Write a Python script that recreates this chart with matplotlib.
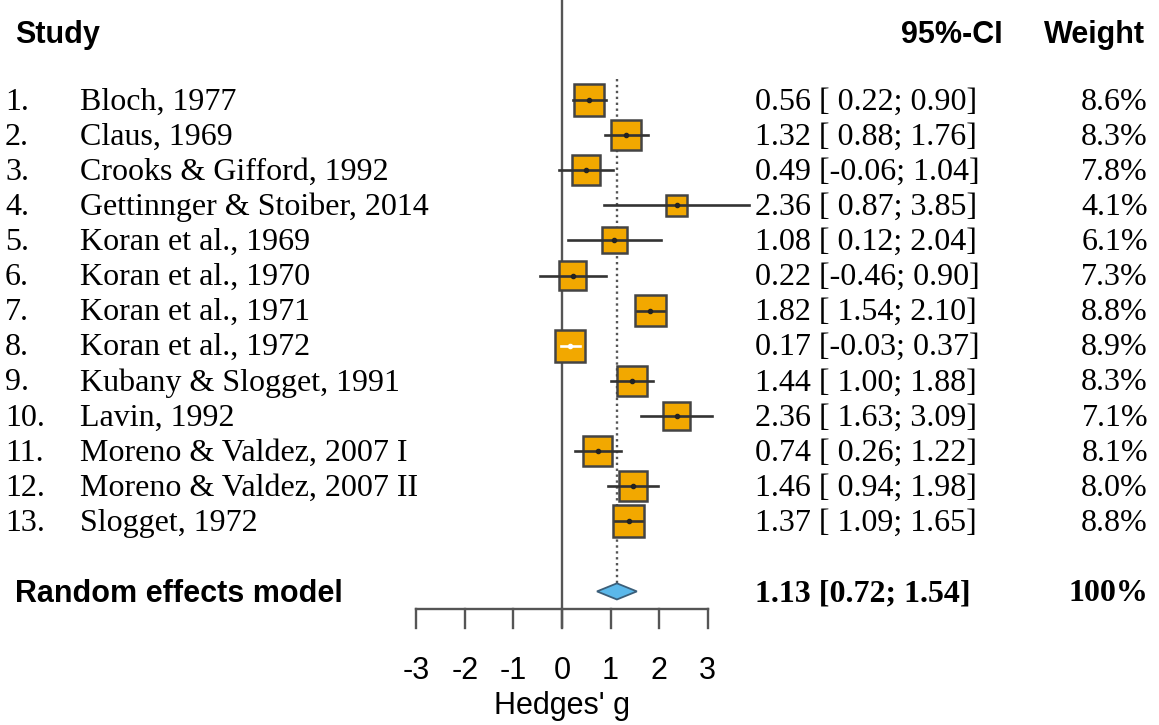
import matplotlib.pyplot as plt
from matplotlib.patches import Rectangle, Polygon
from matplotlib.transforms import blended_transform_factory

# ---------------------------------------- data -------------------------
studies = ["Bloch, 1977", "Claus, 1969", "Crooks & Gifford, 1992",
           "Gettinnger & Stoiber, 2014", "Koran et al., 1969", "Koran et al., 1970",
           "Koran et al., 1971", "Koran et al., 1972", "Kubany & Slogget, 1991",
           "Lavin, 1992", "Moreno & Valdez, 2007 I", "Moreno & Valdez, 2007 II",
           "Slogget, 1972"]
g = [0.56, 1.32, 0.49, 2.36, 1.08, 0.22, 1.82, 0.17, 1.44, 2.36, 0.74, 1.46, 1.37]
lower = [0.22, 0.88, -0.06, 0.87, 0.12, -0.46, 1.54, -0.03, 1.00, 1.63, 0.26, 0.94, 1.09]
upper = [0.90, 1.76, 1.04, 3.85, 2.04, 0.90, 2.10, 0.37, 1.88, 3.09, 1.22, 1.98, 1.65]
weight = [8.6, 8.3, 7.8, 4.1, 6.1, 7.3, 8.8, 8.9, 8.3, 7.1, 8.1, 8.0, 8.8]
pooled = 1.13
pooled_lo = 0.72
pooled_hi = 1.54
ticks = [-3, -2, -1, 0, 1, 2, 3]

W, H = 1159, 725
fig = plt.figure(figsize=(W / 100, H / 100), dpi=100)
ax = fig.add_axes([0, 0, 1, 1])
ax.set_xlim(-562 / 48.6, (W - 562) / 48.6)
ax.set_ylim(1 + (H - 100) / 35.1, 1 - 100 / 35.1)
ax.axis("off")

# x px per unit / y px per row
ux, uy = 48.6, 35.1
tr = blended_transform_factory(ax.transAxes, ax.transData)
def fx(px):
    return px / W

serif = "Liberation Serif"
sans = "Liberation Sans"
fs = 23
line_col = "#333333"
dy = 0.06  # text sits a little below the boxes

# reference lines
ax.plot([0, 0], [-1.9, 16.0], color="#555555", lw=1.7, zorder=1)
ax.plot([pooled, pooled], [0.4, 14.79], color="#555555", lw=1.7, ls=(0, (1, 1.5)), zorder=1)

rows = list(range(1, len(studies) + 1))
for r, name, est, lo, hi, w in zip(rows, studies, g, lower, upper, weight):
    bw = 10.2 * w ** 0.5 / ux
    bh = 10.6 * w ** 0.5 / uy
    ax.add_patch(Rectangle((est - bw / 2, r - bh / 2), bw, bh, facecolor="#F2A800",
                           edgecolor="#444444", lw=1.8, zorder=2))
    inside = (est - lo) < 0.85 * bw / 2 and (hi - est) < 0.85 * bw / 2
    ax.plot([lo, hi], [r, r], color="white" if inside else line_col, lw=1.9, zorder=3)
    ax.plot([est], [r], marker="o", ms=3, color="white" if inside else "#222222", zorder=4)
    ax.text(fx(5), r + dy, "%d." % r, transform=tr, family=serif, fontsize=fs, va="center", ha="left")
    ax.text(fx(80), r + dy, name, transform=tr, family=serif, fontsize=fs, va="center", ha="left")
    ax.text(fx(755), r + dy, "%.2f [%5.2f; %4.2f]" % (est, lo, hi), transform=tr, family=serif,
            fontsize=fs, va="center", ha="left")
    ax.text(fx(1148), r + dy, "%.1f%%" % w, transform=tr, family=serif, fontsize=fs,
            va="center", ha="right")

# pooled diamond
rp = 15
ax.add_patch(Polygon([[pooled_lo, rp], [pooled, rp - 0.23], [pooled_hi, rp], [pooled, rp + 0.23]],
                     closed=True, facecolor="#5BB8EA", edgecolor="#3b5f7a", lw=1.3, zorder=2))
ax.text(fx(15), rp + dy, "Random effects model", transform=tr, family=sans, fontweight="bold",
        fontsize=22, va="center", ha="left")
ax.text(fx(755), rp + dy, "%.2f [%.2f; %.2f]" % (pooled, pooled_lo, pooled_hi), transform=tr,
        family=serif, fontweight="bold", fontsize=fs, va="center", ha="left")
ax.text(fx(1148), rp + dy, "100%", transform=tr, family=serif, fontweight="bold", fontsize=fs,
        va="center", ha="right")

# headers
ax.text(fx(15), -0.85, "Study", transform=tr, family=sans, fontweight="bold", fontsize=22,
        va="center", ha="left")
ax.text(fx(1003), -0.85, "95%-CI", transform=tr, family=sans, fontweight="bold", fontsize=22,
        va="center", ha="right")
ax.text(fx(1145), -0.85, "Weight", transform=tr, family=sans, fontweight="bold", fontsize=22,
        va="center", ha="right")

# x axis
y_ax = 1 + (609 - 100) / uy
y_tk = 1 + (628 - 100) / uy
ax.plot([ticks[0], ticks[-1]], [y_ax, y_ax], color="#555555", lw=1.7, zorder=1)
for t in ticks:
    ax.plot([t, t], [y_ax, y_tk], color="#555555", lw=1.7, zorder=1)
    ax.text(t, 1 + (671 - 100) / uy, str(t), family=sans, fontsize=22, ha="center", va="center")
ax.text(0, 1 + (706 - 100) / uy, "Hedges' g", family=sans, fontsize=22, ha="center", va="center")

plt.savefig("out.png", dpi=100)
